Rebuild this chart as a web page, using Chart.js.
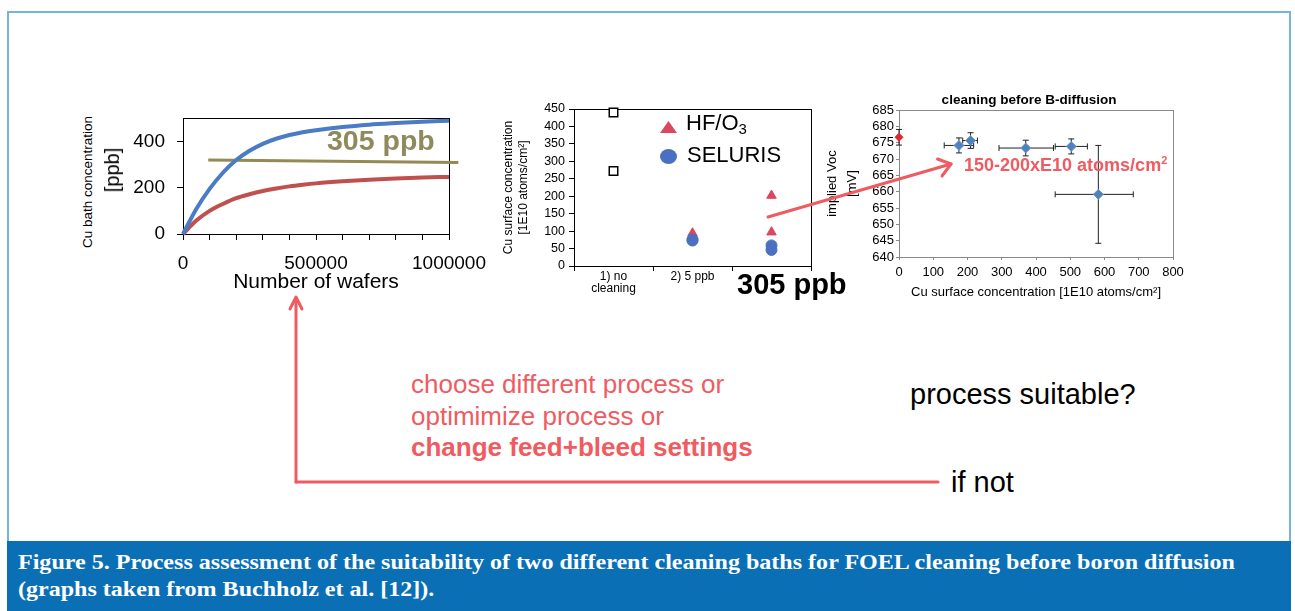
<!DOCTYPE html>
<html lang="en">
<head>
<meta charset="UTF-8">
<title>Process assessment of cleaning baths</title>
<script src="https://cdn.jsdelivr.net/npm/chart.js"></script>
<style>
  html, body { margin: 0; padding: 0; background: #fff; }
  body {
    width: 1295px; height: 611px; position: relative; overflow: hidden;
    font-family: "Liberation Sans", Arial, sans-serif; color: #000;
  }
  .frame {
    position: absolute; left: 7px; top: 11px; width: 1284px; height: 531px;
    border: 2px solid #74b4df; border-bottom: none; box-sizing: border-box;
  }
  .caption {
    position: absolute; left: 7px; top: 541px; width: 1284px; height: 70px;
    background: #0b6fb6; color: #fff;
    font-family: "Liberation Serif", serif; font-weight: bold;
    font-size: 21px; line-height: 27px;
    padding: 8px 0 0 11px; box-sizing: border-box;
  }
  .caption div { transform: scaleX(1.145); transform-origin: 0 0; white-space: nowrap; }
  canvas { position: absolute; }
  .txt { position: absolute; white-space: nowrap; line-height: 1; }
  .rot { position: absolute; white-space: nowrap; line-height: 1; transform: translate(-50%, -50%) rotate(-90deg); }
  .red { color: #ef5b60; }
  svg { position: absolute; left: 0; top: 0; z-index: 5; }
</style>
</head>
<body>

<div class="frame"></div>

<!-- left: Cu in the bath -->
<canvas id="bathChart" width="400" height="204" style="left:100px;top:95px"></canvas>
<div class="rot" style="left:88px;top:182px;font-size:13.5px">Cu bath concentration</div>
<div class="rot" style="left:112px;top:170px;font-size:20px">[ppb]</div>
<div class="txt" style="left:327px;top:126px;font-size:28.5px;font-weight:bold;color:#8f8a5c">305 ppb</div>

<!-- middle: Cu on the surface -->
<canvas id="surfChart" width="324" height="205" style="left:497px;top:95px"></canvas>
<div style="position:absolute;left:660px;top:121px;width:17px;height:12px;background:#d9485d;clip-path:polygon(50% 0,100% 100%,0 100%)"></div>
<div class="txt" style="left:686px;top:112px;font-size:22px">HF/O<sub style="font-size:15px;vertical-align:-4px">3</sub></div>
<div style="position:absolute;left:660px;top:149px;width:17px;height:15px;border-radius:50%;background:#4a70bf"></div>
<div class="txt" style="left:687px;top:144px;font-size:22px">SELURIS</div>
<div class="txt" style="left:737px;top:270px;font-size:29px;font-weight:bold">305 ppb</div>

<!-- right: implied Voc -->
<canvas id="vocChart" width="428" height="219" style="left:815px;top:85px"></canvas>
<div class="txt red" style="left:964px;top:155px;font-size:18px;font-weight:bold">150-200xE10 atoms/cm<sup style="font-size:11px;vertical-align:7px">2</sup></div>

<!-- loop back -->
<div class="txt red" style="left:411px;top:369px;font-size:26px;line-height:31.5px">choose different process or<br>optimimize process or<br><b>change feed+bleed settings</b></div>
<div class="txt" style="left:910px;top:380px;font-size:29px">process suitable?</div>
<div class="txt" style="left:951px;top:468px;font-size:29px">if not</div>

<svg width="1295" height="611">
  <g stroke="#ef5b60" stroke-width="3" fill="none" stroke-linecap="round" stroke-linejoin="round">
    <line x1="768" y1="217" x2="951" y2="164"/>
    <polyline points="937.5,159 951,164 942,176"/>
    <line x1="296" y1="482" x2="296" y2="298"/>
    <line x1="296" y1="482" x2="938" y2="482"/>
    <polyline points="290,309 296,297 302,309"/>
  </g>
</svg>

<div class="caption"><div>Figure 5. Process assessment of the suitability of two different cleaning baths for FOEL cleaning before boron diffusion</div><div>(graphs taken from Buchholz et al. [12]).</div></div>

<script>
  // bath Cu concentration [ppb] vs number of wafers
  const waferCounts = [0, 50000, 100000, 150000, 200000, 250000, 300000, 350000, 400000, 450000, 500000, 600000, 700000, 800000, 900000, 1000000];
  const bathBlue = [0, 108, 195, 265, 320, 360, 390, 412, 428, 440, 449, 463, 473, 480, 486, 490];
  const bathRed = [0, 58, 100, 130, 155, 172, 186, 197, 206, 213, 219, 228, 235, 240, 244, 247];
  const limitWafers = [95000, 1035000];
  const limitPpb = [320, 309];
  const bathTicks = [0, 200, 400];
  const waferTicks = [0, 100000, 200000, 300000, 400000, 500000, 600000, 700000, 800000, 900000, 1000000];
  const waferLabels = [0, 500000, 1000000];

  // Cu surface concentration after cleaning
  const surfCats = ['no cleaning', '5 ppb', '305 ppb'];
  const surfTickLabels = [['1) no', 'cleaning'], '2) 5 ppb', ''];
  const refCat = ['no cleaning', 'no cleaning'];
  const refVals = [440, 272];
  const hfCat = ['5 ppb', '5 ppb', '305 ppb', '305 ppb'];
  const hfVals = [94, 78, 202, 97];
  const selCat = ['5 ppb', '5 ppb', '305 ppb', '305 ppb'];
  const selVals = [76, 73, 59, 46];

  // implied Voc vs Cu surface concentration
  const vocCu = [175, 209, 370, 503, 582];
  const vocVal = [674.2, 675.7, 673.4, 673.9, 659.2];
  const vocCuLo = [43, 23, 78, 47, 126];
  const vocCuHi = [43, 20, 81, 47, 102];
  const vocErr = [2.3, 2.4, 2.4, 2.3, 15];
  const refCu = [0];
  const refVoc = [676.7];
  const refCuErr = [0];
  const refVocErr = [2.4];

  const toXY = (xs, ys) => xs.map((x, i) => ({ x: x, y: ys[i] }));

  Chart.defaults.font.family = '"Liberation Sans", Arial, sans-serif';
  Chart.defaults.color = '#000';
  Chart.defaults.animation = false;
  Chart.defaults.plugins.legend.display = false;
  Chart.defaults.plugins.tooltip.enabled = false;

  // box round the plot area
  const boxFrame = {
    id: 'boxFrame',
    beforeDatasetsDraw(chart, args, opts) {
      const a = chart.chartArea, ctx = chart.ctx;
      ctx.save();
      ctx.strokeStyle = opts.color || '#000';
      ctx.lineWidth = 1;
      ctx.strokeRect(Math.round(a.left) + 0.5, Math.round(a.top) + 0.5,
        Math.round(a.right - a.left), Math.round(a.bottom - a.top));
      ctx.restore();
    }
  };

  // x and y error bars with caps
  const errorBars = {
    id: 'errorBars',
    beforeDatasetsDraw(chart) {
      const { ctx, scales: { x, y } } = chart;
      const cap = 3;
      ctx.save();
      ctx.strokeStyle = '#222';
      ctx.lineWidth = 1;
      chart.data.datasets.forEach(ds => {
        if (!ds.errY) return;
        ds.data.forEach((p, i) => {
          const px = x.getPixelForValue(p.x), py = y.getPixelForValue(p.y);
          ctx.beginPath();
          if (ds.errXLo[i] || ds.errXHi[i]) {
            const x1 = x.getPixelForValue(p.x - ds.errXLo[i]);
            const x2 = x.getPixelForValue(p.x + ds.errXHi[i]);
            ctx.moveTo(x1, py); ctx.lineTo(x2, py);
            ctx.moveTo(x1, py - cap); ctx.lineTo(x1, py + cap);
            ctx.moveTo(x2, py - cap); ctx.lineTo(x2, py + cap);
          }
          const y1 = y.getPixelForValue(p.y - ds.errY[i]);
          const y2 = y.getPixelForValue(p.y + ds.errY[i]);
          ctx.moveTo(px, y1); ctx.lineTo(px, y2);
          ctx.moveTo(px - cap, y1); ctx.lineTo(px + cap, y1);
          ctx.moveTo(px - cap, y2); ctx.lineTo(px + cap, y2);
          ctx.stroke();
        });
      });
      ctx.restore();
    }
  };

  new Chart(document.getElementById('bathChart'), {
    type: 'line',
    data: {
      datasets: [
        { data: toXY(waferCounts, bathBlue), borderColor: '#4a7cc5', borderWidth: 4, pointRadius: 0, cubicInterpolationMode: 'monotone', clip: false },
        { data: toXY(waferCounts, bathRed), borderColor: '#c0504d', borderWidth: 4, pointRadius: 0, cubicInterpolationMode: 'monotone', clip: false },
        { data: toXY(limitWafers, limitPpb), borderColor: '#948a54', borderWidth: 3, pointRadius: 0, clip: false }
      ]
    },
    options: {
      responsive: false,
      layout: { padding: { top: 18, right: 51, left: 0, bottom: 0 } },
      scales: {
        x: {
          type: 'linear', min: 0, max: 1000000,
          afterBuildTicks: s => { s.ticks = waferTicks.map(v => ({ value: v })); },
          ticks: {
            autoSkip: false, maxRotation: 0, padding: 12, font: { size: 19 },
            callback: v => waferLabels.includes(v) ? String(v) : ''
          },
          grid: { drawOnChartArea: false, tickLength: 6, color: '#000', tickColor: '#000', tickWidth: 1 },
          border: { color: '#000' },
          title: { display: true, text: 'Number of wafers', font: { size: 21 }, padding: { top: 0, bottom: 4 } },
          afterFit: s => { s.height = 65; }
        },
        y: {
          min: 0, max: 500,
          afterBuildTicks: s => { s.ticks = bathTicks.map(v => ({ value: v })); },
          ticks: { padding: 12, font: { size: 19 } },
          grid: { drawOnChartArea: false, tickLength: 6, color: '#000' },
          border: { color: '#000' },
          afterFit: s => { s.width = 83; }
        }
      },
      plugins: { boxFrame: { color: '#000' } }
    },
    plugins: [boxFrame]
  });

  new Chart(document.getElementById('surfChart'), {
    type: 'scatter',
    data: {
      labels: surfCats,
      datasets: [
        { data: toXY(selCat, selVals), pointStyle: 'circle', pointRadius: 5.5, backgroundColor: '#4a70bf', borderColor: '#4a70bf', clip: false },
        { data: toXY(hfCat, hfVals), pointStyle: 'triangle', pointRadius: 5.5, backgroundColor: '#d9485d', borderColor: '#d9485d', clip: false },
        { data: toXY(refCat, refVals), pointStyle: 'rect', pointRadius: 6, backgroundColor: '#fff', borderColor: '#000', borderWidth: 1.5, clip: false }
      ]
    },
    options: {
      responsive: false,
      layout: { padding: { top: 14, right: 10, left: 0, bottom: 0 } },
      scales: {
        x: {
          type: 'category', labels: surfCats, offset: true,
          ticks: { padding: 0, autoSkip: false, maxRotation: 0, font: { size: 12, lineHeight: 1 }, callback: (v, i) => surfTickLabels[i] },
          grid: { offset: true, drawOnChartArea: false, tickLength: 5, color: '#000' },
          border: { color: '#000' },
          afterFit: s => { s.height = 34; }
        },
        y: {
          min: 0, max: 450,
          ticks: { stepSize: 50, autoSkip: false, padding: 4, font: { size: 12.5 } },
          grid: { drawOnChartArea: false, tickLength: 5, color: '#000' },
          border: { color: '#000' },
          title: { display: true, text: ['Cu surface concentration', '[1E10 atoms/cm²]'], font: { size: 12, lineHeight: 1.25 }, padding: { top: 4, bottom: 0 } },
          afterFit: s => { s.width = 77; }
        }
      },
      plugins: { boxFrame: { color: '#000' } }
    },
    plugins: [boxFrame]
  });

  new Chart(document.getElementById('vocChart'), {
    type: 'scatter',
    data: {
      datasets: [
        { data: toXY(refCu, refVoc), errXLo: refCuErr, errXHi: refCuErr, errY: refVocErr, pointStyle: 'rectRot', pointRadius: 4, backgroundColor: '#e3262d', borderColor: '#e3262d', clip: false },
        { data: toXY(vocCu, vocVal), errXLo: vocCuLo, errXHi: vocCuHi, errY: vocErr, pointStyle: 'rectRot', pointRadius: 5, backgroundColor: '#4f81bd', borderColor: '#6f9bd0', borderWidth: 1, clip: false }
      ]
    },
    options: {
      responsive: false,
      layout: { padding: { top: 7, right: 4, left: 4, bottom: 0 } },
      scales: {
        x: {
          type: 'linear', min: 0, max: 800,
          ticks: { stepSize: 100, autoSkip: false, padding: 5, font: { size: 13 } },
          grid: { drawOnChartArea: false, tickLength: 3, color: '#888' },
          border: { color: '#888' },
          title: { display: true, text: 'Cu surface concentration [1E10 atoms/cm²]', font: { size: 13 }, padding: { top: 0, bottom: 4 } },
          afterFit: s => { s.height = 47; }
        },
        y: {
          min: 640, max: 685,
          ticks: { stepSize: 5, autoSkip: false, padding: 2, font: { size: 13 } },
          grid: { drawOnChartArea: false, tickLength: 3, color: '#888' },
          border: { color: '#888' },
          title: { display: true, text: ['implied Voc', '[mV]'], font: { size: 13, lineHeight: 1.5 }, padding: { top: 4, bottom: 0 } },
          afterFit: s => { s.width = 80; }
        },
        y2: {
          position: 'right',
          grid: { display: false }, border: { display: false }, ticks: { display: false },
          afterFit: s => { s.width = 66; }
        }
      },
      plugins: {
        title: { display: true, text: 'cleaning before B-diffusion', color: '#000', font: { size: 13.5, weight: 'bold' }, padding: { top: 0, bottom: 2 } },
        boxFrame: { color: '#888' }
      }
    },
    plugins: [boxFrame, errorBars]
  });
</script>
</body>
</html>
